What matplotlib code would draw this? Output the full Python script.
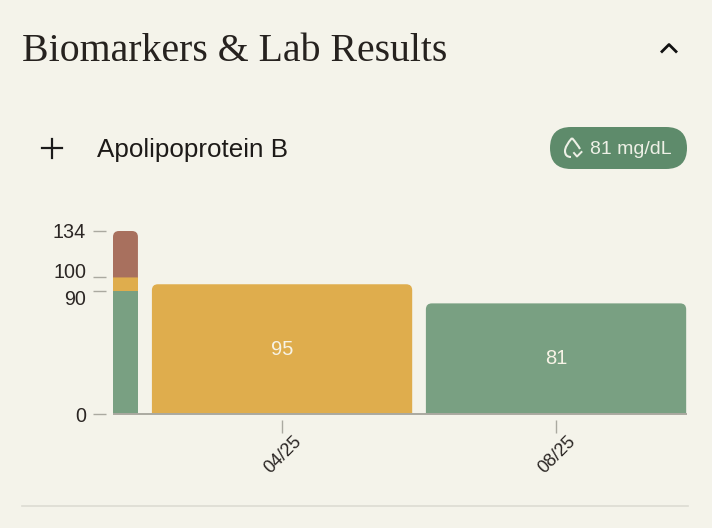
import matplotlib
matplotlib.use("Agg")
import matplotlib.pyplot as plt
from matplotlib.patches import FancyBboxPatch, PathPatch
from matplotlib.path import Path
from matplotlib.transforms import ScaledTranslation

BG = '#f4f3ea'
GREEN = '#79a082'
YELLOW = '#dfad4d'
BROWN = '#a8705e'
PILL = '#5e8b6b'
GREY = '#aaa9a0'
INK = '#2b2624'

# reference range shown in the narrow bar
range_edges = [0, 90, 100, 134]
range_colors = [GREEN, YELLOW, BROWN]
y_ticks = [0, 90, 100, 134]

# results
dates = ['04/25', '08/25']
values = [95, 81]
value_colors = [YELLOW, GREEN]

W, H = 712, 528
fig = plt.figure(figsize=(W / 100, H / 100), dpi=100, facecolor=BG)

# overlay in pixel coordinates for the header and icons
ui = fig.add_axes([0, 0, 1, 1])
ui.set_xlim(0, W)
ui.set_ylim(H, 0)
ui.axis('off')

ax = fig.add_axes([113 / W, 1 - 414 / H, 574 / W, 183 / H], facecolor='none')
ax.set_xlim(-0.617, 1.478)
ax.set_ylim(0, 134)


def top_rounded_bar(ax, x0, x1, y0, y1, color, r_px=6):
    """Bar from y0 to y1 with rounded top corners only"""
    rx = r_px / 274
    ry = r_px / (183 / 134)
    verts = [(x0, y0), (x0, y1 - ry), (x0, y1), (x0 + rx, y1), (x1 - rx, y1),
             (x1, y1), (x1, y1 - ry), (x1, y0), (x0, y0)]
    codes = [Path.MOVETO, Path.LINETO, Path.CURVE3, Path.CURVE3, Path.LINETO,
             Path.CURVE3, Path.CURVE3, Path.LINETO, Path.CLOSEPOLY]
    ax.add_patch(PathPatch(Path(verts, codes), facecolor=color, edgecolor='none',
                           clip_on=False))


# narrow range bar, only the top segment is rounded
range_x0, range_x1 = -0.617, -0.526
for i, color in enumerate(range_colors):
    lo, hi = range_edges[i], range_edges[i + 1]
    if i == len(range_colors) - 1:
        top_rounded_bar(ax, range_x0, range_x1, lo, hi, color)
    else:
        ax.bar((range_x0 + range_x1) / 2, hi - lo, bottom=lo, width=range_x1 - range_x0,
               color=color, linewidth=0)

# result bars
for i, (val, color) in enumerate(zip(values, value_colors)):
    top_rounded_bar(ax, i - 0.475, i + 0.475, 0, val, color)
    ax.text(i, val / 2, str(val), color='#f7f3e6', fontsize=14.5, ha='center', va='center',
            family='Liberation Sans')

ax.axhline(0, color=GREY, linewidth=1.4, clip_on=False, zorder=3, solid_capstyle='butt')

for side in ['top', 'right', 'left', 'bottom']:
    ax.spines[side].set_visible(False)
ax.spines['left'].set_position(('outward', 5.2))
ax.spines['bottom'].set_position(('outward', 4.3))

ax.set_yticks(y_ticks)
ax.set_yticklabels([str(t) for t in y_ticks], family='Liberation Sans', fontsize=14.2, color=INK)
ax.tick_params(axis='y', length=9.2, width=1, color=GREY, pad=5)
ax.set_xticks(range(len(dates)))
ax.set_xticklabels(dates, family='Liberation Sans', fontsize=13, color=INK, rotation=45)
ax.tick_params(axis='x', length=9.2, width=1, color=GREY, pad=0)

# 100 and 90 sit too close together, push their labels apart
for lab, tick in zip(ax.get_yticklabels(), y_ticks):
    if tick == 100:
        lab.set_transform(lab.get_transform() + ScaledTranslation(0, 7 / 100, fig.dpi_scale_trans))
    elif tick == 90:
        lab.set_transform(lab.get_transform() + ScaledTranslation(0, -6 / 100, fig.dpi_scale_trans))

# the rotated date labels sit a touch left otherwise
for lab in ax.get_xticklabels():
    lab.set_transform(lab.get_transform() + ScaledTranslation(1 / 100, 0, fig.dpi_scale_trans))

# header
ui.text(22, 61, 'Biomarkers & Lab Results', family='Liberation Serif', fontsize=28.6,
        color='#26221f', va='baseline', ha='left')
ui.plot([661, 669, 677], [52.5, 44.5, 52.5], color='#111111', lw=2.0, solid_capstyle='butt')

# biomarker row
ui.plot([42, 62], [148, 148], color='#1a1a1a', lw=1.6)
ui.plot([52, 52], [138.5, 157.5], color='#1a1a1a', lw=1.6)
ui.text(97, 157, 'Apolipoprotein B', family='Liberation Sans', fontsize=18.7, color='#1d1a18',
        va='baseline', ha='left')

# value pill
ui.add_patch(FancyBboxPatch((550, 127), 137, 42, boxstyle='round,pad=0,rounding_size=21',
                            facecolor=PILL, edgecolor='none'))
drop = Path([(572, 138), (565, 146), (565, 151), (565, 157), (571, 157)],
            [Path.MOVETO, Path.CURVE3, Path.CURVE3, Path.CURVE3, Path.CURVE3])
ui.add_patch(PathPatch(drop, facecolor='none', edgecolor='#eef0e6', lw=1.5))
drop_r = Path([(572, 138), (578, 145), (580, 149)], [Path.MOVETO, Path.CURVE3, Path.CURVE3])
ui.add_patch(PathPatch(drop_r, facecolor='none', edgecolor='#eef0e6', lw=1.5))
ui.plot([574, 577, 581.5], [153, 156.5, 152], color='#eef0e6', lw=1.4)
ui.text(590, 154.5, '81 mg/dL', family='Liberation Sans', fontsize=14, color='#eef0e6',
        va='baseline', ha='left')

# divider at the bottom
ui.plot([22, 688], [506, 506], color='#dddcd3', lw=1.2)

fig.savefig('out.png', dpi=100, facecolor=BG)
